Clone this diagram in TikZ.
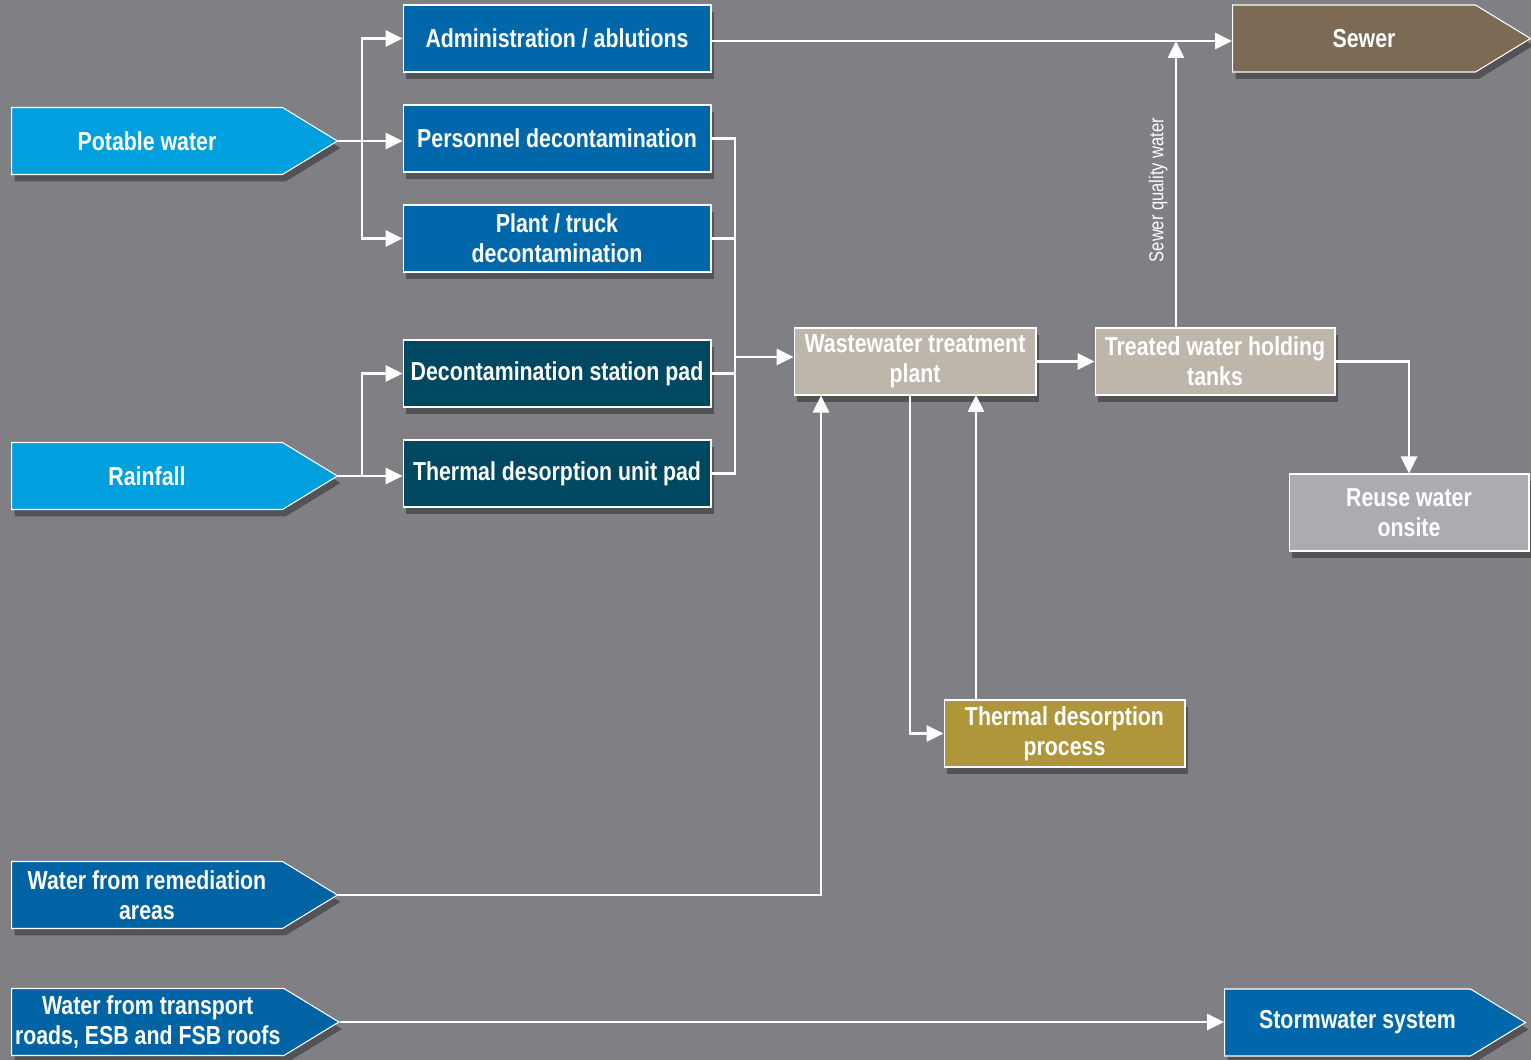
\documentclass[tikz,border=0pt]{standalone}
\usepackage{fontspec}
\setmainfont[FakeStretch=0.82]{Liberation Sans}
\usetikzlibrary{arrows.meta}
\usetikzlibrary{shapes.symbols}
\usetikzlibrary{shadows}
\definecolor{mbg}{RGB}{128,127,132}
\definecolor{mcyan}{RGB}{0,160,222}
\definecolor{mblue}{RGB}{0,104,170}
\definecolor{mdeep}{RGB}{0,99,164}
\definecolor{mteal}{RGB}{0,72,98}
\definecolor{mtaupe}{RGB}{190,182,170}
\definecolor{mgrey}{RGB}{170,172,175}
\definecolor{mgold}{RGB}{176,150,58}
\definecolor{mbrown}{RGB}{124,106,85}
\tikzset{pipe/.style = {draw=white, line width=1.6pt},
         flow/.style = {pipe, -{Triangle[length=0.34cm, width=0.32cm]}},
         box/.style = {rectangle, draw=white, line width=0.6pt, inner sep=2pt,
                       minimum width=6.16cm, minimum height=1.34cm, align=center,
                       text=white, font=\fontsize{14.8}{17}\selectfont\bfseries,
                       drop shadow={shadow xshift=0.06cm, shadow yshift=-0.14cm,
                                    fill=black, opacity=0.35}},
         source/.style = {box, shape=signal, signal to=east, signal pointer angle=62.7,
                          minimum width=6.52cm, anchor=west}}

\begin{document}
\begin{tikzpicture}[x=0.02cm, y=-0.02cm]
    \fill [mbg] (0, 0) rectangle (1531, 1060);
    \useasboundingbox (0, 0) rectangle (1531, 1060);

    % sources on the left
    \node [source, fill=mcyan] (potable) at (11, 141) {Potable water};
    \node [source, fill=mcyan] (rain) at (11, 476) {Rainfall};
    \node [source, fill=mdeep] (remed) at (11, 895) {Water from remediation\\areas};
    \node [source, fill=mdeep] (transport) at (11, 1022) {Water from transport\\roads, ESB and FSB roofs};

    % users
    \node [box, fill=mblue] (admin) at (557, 38.5) {Administration / ablutions};
    \node [box, fill=mblue] (personnel) at (557, 138.5) {Personnel decontamination};
    \node [box, fill=mblue] (plant) at (557, 238.5) {Plant / truck\\decontamination};
    \node [box, fill=mteal] (decpad) at (557, 373.5) {Decontamination station pad};
    \node [box, fill=mteal] (tdupad) at (557, 473.5) {Thermal desorption unit pad};

    % treatment
    \node [box, fill=mtaupe, minimum width=4.84cm] (wwtp) at (915, 361.5) {Wastewater treatment\\plant};
    \node [box, fill=mtaupe, minimum width=4.8cm] (tanks) at (1215, 361.5) {Treated water holding\\tanks};
    \node [box, fill=mgrey, minimum width=4.8cm, minimum height=1.54cm] (reuse) at (1409, 512.5) {Reuse water\\onsite};
    \node [box, fill=mgold, minimum width=4.82cm] (tdp) at (1064.5, 733.5) {Thermal desorption\\process};

    % outlets
    \node [source, fill=mbrown, minimum width=5.96cm] (sewer) at (1232, 38.5) {\hspace*{0.4cm}Sewer};
    \node [source, fill=mblue, minimum width=6.02cm] (storm) at (1224, 1022.5) {\hspace*{0.4cm}Stormwater system};

    \coordinate (pj) at (362, 141);
    \coordinate (rj) at (362, 476);
    \coordinate (cj) at (735, 357);
    \coordinate (sq) at (1176, 41);
    \coordinate (tdin) at (910, 395);
    \coordinate (tdout) at (976, 395);
    \coordinate (rm) at (821, 895);

    \draw [flow] (potable.east) -- (personnel.west |- potable.east);
    \draw [flow] (pj) |- (admin.west);
    \draw [flow] (pj) |- (plant.west);
    \draw [flow] (rain.east) -- (tdupad.west |- rain.east);
    \draw [flow] (rj) |- (decpad.west);

    \draw [pipe] (personnel.east) -| (cj) |- (tdupad.east);
    \draw [pipe] (plant.east) -- (plant.east -| cj);
    \draw [pipe] (decpad.east) -- (decpad.east -| cj);
    \draw [flow] (cj) -- (wwtp.west |- cj);

    \draw [flow] (admin.east |- sq) -- (sewer.west |- sq);
    \draw [flow] (tanks.north -| sq) -- (sq)
        node [pos=0.48, rotate=90, anchor=south, inner sep=4pt, font=\fontsize{11.5}{13}\selectfont, text=white] {Sewer quality water};
    \draw [flow] (wwtp.east) -- (tanks.west);
    \draw [flow] (tanks.east) -| (reuse.north);

    \draw [flow] (tdin) |- (tdp.west);
    \draw [flow] (tdp.north -| tdout) -- (tdout);
    \draw [flow] (remed.east) -| (wwtp.south -| rm);
    \draw [flow] (transport.east) -- (storm.west |- transport.east);
\end{tikzpicture}
\end{document}
